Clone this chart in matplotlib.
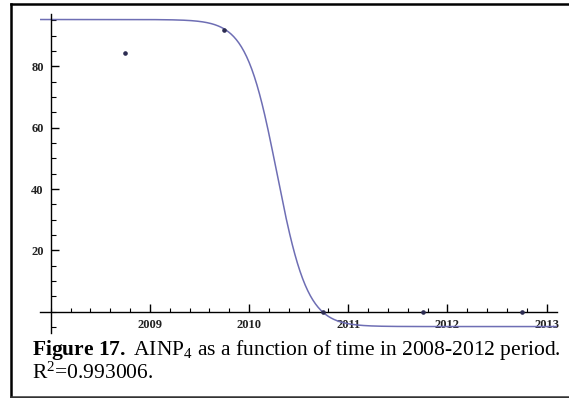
import numpy as np
import matplotlib.pyplot as plt
from matplotlib.lines import Line2D
from matplotlib.ticker import MultipleLocator

plt.rcParams['mathtext.fontset'] = 'custom'
plt.rcParams['mathtext.rm'] = 'Liberation Serif'
plt.rcParams['mathtext.it'] = 'Liberation Serif:italic'
plt.rcParams['mathtext.bf'] = 'Liberation Serif:bold'

# observed AINP4 values
years = [2008.75, 2009.75, 2010.75, 2011.75, 2012.75]
ainp4 = [84.5, 92.0, 0.0, 0.0, 0.0]

# fitted logistic
fit_hi = 95.3
fit_lo = -4.8
fit_k = 6.5
fit_x0 = 2010.28

x_ticks = [2009, 2010, 2011, 2012, 2013]
y_ticks = [20, 40, 60, 80]

fig = plt.figure(figsize=(5.69, 3.98), dpi=100)
ax = fig.add_axes([40 / 569, 1 - 333 / 398, 517 / 569, (333 - 14) / 398])

xs = np.linspace(2007.9, 2013.1, 600)
fit = fit_lo + (fit_hi - fit_lo) / (1 + np.exp(fit_k * (xs - fit_x0)))
ax.plot(xs, fit, color='#6e6eb4', lw=1.1, zorder=2)
ax.plot(years, ainp4, 'o', color='#2c2c52', ms=2.3, zorder=3)

ax.set_xlim(2007.892, 2013.104)
ax.set_ylim(-6.9, 97.1)

# Mathematica-style axes crossing at (2008, 0)
ax.spines['left'].set_position(('data', 2008))
ax.spines['bottom'].set_position(('data', 0))
ax.spines['right'].set_visible(False)
ax.spines['top'].set_visible(False)
for s in ('left', 'bottom'):
    ax.spines[s].set_linewidth(1.0)
    ax.spines[s].set_color('black')

ax.set_xticks(x_ticks)
ax.set_xticklabels([str(t) for t in x_ticks])
ax.xaxis.set_minor_locator(MultipleLocator(0.2))
ax.set_yticks(y_ticks)
ax.set_yticklabels([str(t) for t in y_ticks])
ax.yaxis.set_minor_locator(MultipleLocator(5))

ax.tick_params(axis='x', which='major', direction='in', length=6, width=1, pad=5)
ax.tick_params(axis='x', which='minor', direction='in', length=3, width=0.8)
ax.tick_params(axis='y', which='major', direction='in', length=6, width=1, pad=5)
ax.tick_params(axis='y', which='minor', direction='in', length=3.5, width=0.8)
for lab in ax.get_xticklabels() + ax.get_yticklabels():
    lab.set_fontfamily('Liberation Serif')
    lab.set_fontsize(9)
    lab.set_fontweight('bold')
    lab.set_color('#222222')
ax.patch.set_alpha(0)

# caption
fig.text(32 / 569, 1 - 355 / 398,
         r'$\mathbf{Figure\ 17.}$ AINP$_4$ as a function of time in 2008-2012 period.',
         family='Liberation Serif', fontsize=15.5, va='baseline', ha='left')
fig.text(32 / 569, 1 - 379 / 398, r'R$^2$=0.993006.',
         family='Liberation Serif', fontsize=15.5, va='baseline', ha='left')

# outer frame of the screenshot
fig.add_artist(Line2D([11 / 569, 11 / 569], [1 - 4 / 398, 1 - 396.5 / 398],
                      color='black', lw=1.8, transform=fig.transFigure))
fig.add_artist(Line2D([11 / 569, 1], [1 - 4 / 398, 1 - 4 / 398],
                      color='black', lw=1.8, transform=fig.transFigure))
fig.add_artist(Line2D([11 / 569, 1], [1 - 396.5 / 398, 1 - 396.5 / 398],
                      color='#333333', lw=1.8, transform=fig.transFigure))

fig.savefig('out.png', dpi=100)
